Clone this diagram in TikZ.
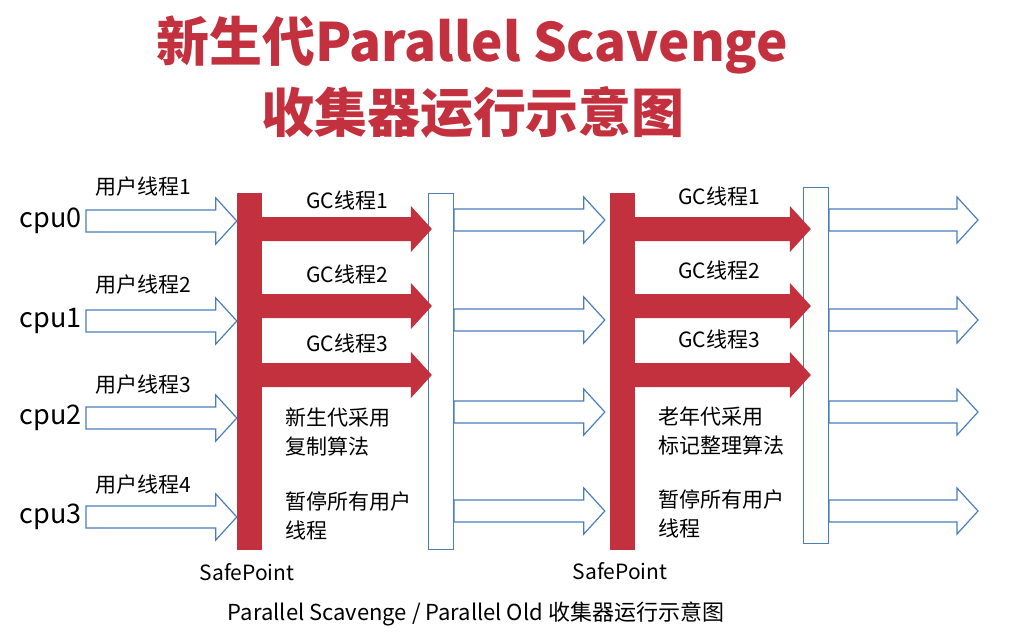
\documentclass[tikz,border=0pt]{standalone}
\usepackage{fontspec}
\setmainfont{Noto Sans CJK SC}
\usetikzlibrary{calc}

\definecolor{gcred}{RGB}{195,48,62}
\definecolor{lineblue}{RGB}{74,126,187}
\def\s{0.03515}
\def\punkt#1#2{({(#1)*\s},{-(#2)*\s})}
% fat arrow: style, from, to, half shaft, half head
\newcommand\pfeil[5]{%
  \path[#1] let \p1=#2, \p2=#3 in
    (\x1,\y1+#4) -- (\x2-21pt,\y1+#4) -- (\x2-21pt,\y1+#5) -- (\x2,\y1)
    -- (\x2-21pt,\y1-#5) -- (\x2-21pt,\y1-#4) -- (\x1,\y1-#4) -- cycle;}

\begin{document}
\begin{tikzpicture}[
  hollow/.style={draw=lineblue,fill=white,line width=1.2pt},
  gcarrow/.style={fill=gcred},
  safebar/.style={fill=gcred,inner sep=0pt,minimum width=25pt,minimum height=357pt},
  pausebox/.style={draw=lineblue,fill=white,line width=1.2pt,inner sep=0pt,minimum width=25pt,minimum height=356pt},
  txt/.style={inner sep=0pt,font=\fontsize{21}{29}\selectfont},
  cpulabel/.style={inner sep=0pt,anchor=east,font=\fontsize{27}{30}\selectfont},
  titletxt/.style={inner sep=0pt,text=gcred,font=\fontsize{53}{60}\selectfont\bfseries}]
\useasboundingbox \punkt{0}{0} rectangle \punkt{1036}{639};

% title
\node[titletxt] (title1) at \punkt{472}{45} {新生代Parallel Scavenge};
\node[titletxt] (title2) at \punkt{473}{112} {收集器运行示意图};

% safepoints and pause boxes
\node[safebar] (sp1) at \punkt{249.5}{371.5} {};
\node[pausebox] (b1) at \punkt{441}{371.5} {};
\node[safebar] (sp2) at \punkt{622.5}{371.5} {};
\node[pausebox] (b2) at \punkt{816}{365.5} {};

% user threads
\foreach \k/\num/\yy/\ly in {0/1/221/187,1/2/321/285,2/3/418/385,3/4/517/485}{
  \node[cpulabel] (cpu\k) at \punkt{82}{\yy} {cpu\k};
  \node[txt,anchor=west] (user\num) at \punkt{95}{\ly} {用户线程\num};
  \path \punkt{86}{\yy} coordinate (u\k);
  \pfeil{hollow}{(u\k)}{(u\k -| sp1.west)}{11pt}{23pt}
}

% threads after the pause
\foreach \k/\yy in {0/220,1/320,2/412,3/511}{
  \path \punkt{0}{\yy} coordinate (r\k);
  \path \punkt{978}{\yy} coordinate (e\k);
  \pfeil{hollow}{(b1.east |- r\k)}{([xshift=-5pt]sp2.west |- r\k)}{11pt}{23pt}
  \pfeil{hollow}{(b2.east |- r\k)}{(e\k)}{11pt}{23pt}
}

% gc threads
\foreach \k/\num/\yy/\ly in {0/1/229/200,1/2/306/274,2/3/375/343}{
  \node[txt] (gcy\num) at \punkt{347}{\ly} {GC线程\num};
  \node[txt] (gco\num) at \punkt{719}{\ly-4} {GC线程\num};
  \path \punkt{0}{\yy} coordinate (g\k);
  \pfeil{gcarrow}{(sp1.center |- g\k)}{([xshift=4pt]b1.west |- g\k)}{12pt}{23pt}
  \pfeil{gcarrow}{(sp2.center |- g\k)}{([xshift=8pt]b2.west |- g\k)}{12pt}{23pt}
}

% notes
\node[txt,anchor=west,align=left] (note1) at \punkt{285}{432} {新生代采用\\复制算法};
\node[txt,anchor=west,align=left] (note2) at \punkt{285}{516} {暂停所有用户\\线程};
\node[txt,anchor=west,align=left] (note3) at \punkt{658}{431} {老年代采用\\标记整理算法};
\node[txt,anchor=west,align=left] (note4) at \punkt{658}{514} {暂停所有用户\\线程};

\node[txt] (spl1) at \punkt{247}{572} {SafePoint};
\node[txt] (spl2) at \punkt{620}{571} {SafePoint};

\node[inner sep=0pt,font=\fontsize{22}{26}\selectfont] (caption) at \punkt{476}{614}
  {Parallel Scavenge / Parallel Old 收集器运行示意图};
\end{tikzpicture}
\end{document}
